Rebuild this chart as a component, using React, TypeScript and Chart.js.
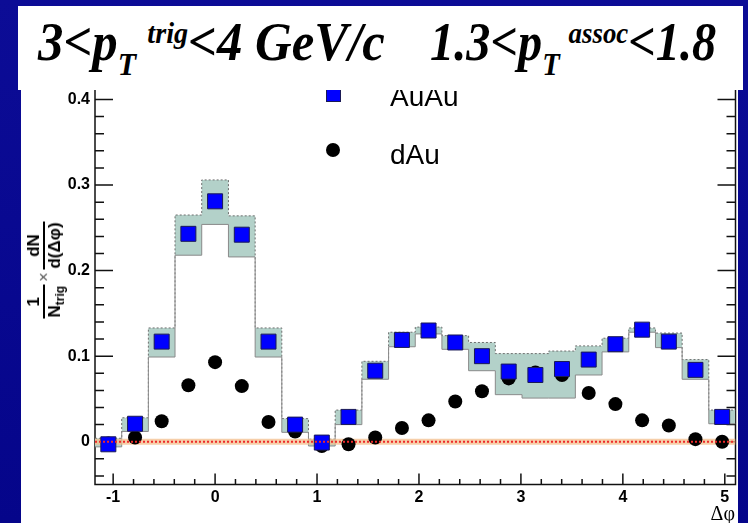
import React, { useEffect, useRef } from 'react';
import { Chart, registerables } from 'chart.js';

Chart.register(...registerables);

// Δφ bin centres (rad)
const phiCenters = [-1.047, -0.785, -0.524, -0.262, 0.0, 0.262, 0.524, 0.785, 1.047, 1.309, 1.571, 1.833,
  2.094, 2.356, 2.618, 2.88, 3.142, 3.403, 3.665, 3.927, 4.189, 4.451, 4.712, 4.974];
// AuAu per-trigger yield
const auauYield = [-0.003, 0.021, 0.117, 0.243, 0.281, 0.242, 0.117, 0.020, -0.001, 0.029, 0.083, 0.119,
  0.130, 0.116, 0.100, 0.082, 0.078, 0.085, 0.096, 0.114, 0.131, 0.117, 0.084, 0.029];
// dAu per-trigger yield
const dauYield = [-0.002, 0.005, 0.024, 0.066, 0.093, 0.065, 0.023, 0.012, -0.005, -0.003, 0.005, 0.016,
  0.025, 0.047, 0.059, 0.074, 0.081, 0.078, 0.057, 0.044, 0.025, 0.019, 0.003, 0.000];
// AuAu systematic band (upper / lower edges)
const auauSysHigh = [0.004, 0.028, 0.133, 0.265, 0.306, 0.264, 0.133, 0.027, 0.003, 0.037, 0.094, 0.128,
  0.134, 0.124, 0.116, 0.103, 0.103, 0.106, 0.112, 0.121, 0.133, 0.127, 0.096, 0.037];
const auauSysLow = [-0.006, 0.012, 0.099, 0.218, 0.254, 0.216, 0.099, 0.011, -0.005, 0.020, 0.073, 0.111,
  0.126, 0.108, 0.083, 0.055, 0.051, 0.051, 0.078, 0.105, 0.128, 0.110, 0.073, 0.021];

const xTickValues = [-1, 0, 1, 2, 3, 4, 5];
const yTickValues = [0, 0.1, 0.2, 0.3, 0.4];
const xMin = -1.178;
const xMax = 5.105;
const yMin = -0.05;
const yMax = 0.42;

function stepPoints(values: number[]) {
  const n = phiCenters.length;
  const half = (phiCenters[1] - phiCenters[0]) / 2;
  const pts: { x: number; y: number }[] = [];
  for (let i = 0; i <= n; i++) {
    const edge = i === 0 ? phiCenters[0] - half : i === n ? phiCenters[n - 1] + half : (phiCenters[i - 1] + phiCenters[i]) / 2;
    pts.push({ x: edge, y: values[Math.min(i, n - 1)] });
  }
  return pts;
}

const rootAxes = {
  id: 'rootAxes',
  beforeDatasetsDraw(chart: any) {
    const { ctx, chartArea: a } = chart;
    const xs = chart.scales.x;
    const ys = chart.scales.y;
    ctx.save();
    ctx.strokeStyle = '#111';
    ctx.lineWidth = 1.5;
    ctx.beginPath();
    for (let i = -2; i <= 20; i++) {
      const py = ys.getPixelForValue(i / 50);
      const len = i % 5 === 0 ? 18 : 9;
      ctx.moveTo(a.left, py);
      ctx.lineTo(a.left + len, py);
      ctx.moveTo(a.right, py);
      ctx.lineTo(a.right - len, py);
    }
    for (let j = -5; j <= 25; j++) {
      const px = xs.getPixelForValue(j / 5);
      const len = j % 5 === 0 ? 11 : 5.5;
      ctx.moveTo(px, a.bottom);
      ctx.lineTo(px, a.bottom - len);
    }
    ctx.stroke();
    ctx.strokeRect(a.left, a.top, a.right - a.left, a.bottom - a.top);
    ctx.restore();
  },
};

const sans = '"Liberation Sans", Arial, Helvetica, sans-serif';
const serif = '"Liberation Serif", "Times New Roman", serif';

function Frac({ num, den }: { num: React.ReactNode; den: React.ReactNode }) {
  return (
    <div style={{ display: 'flex', flexDirection: 'column', alignItems: 'center' }}>
      <div style={{ padding: '0 1px 1px' }}>{num}</div>
      <div style={{ height: 2, background: '#000', alignSelf: 'stretch' }} />
      <div style={{ padding: '1px 1px 0' }}>{den}</div>
    </div>
  );
}

export default function App() {
  const ref = useRef<HTMLCanvasElement>(null);
  useEffect(() => {
    const zeroLine = [{ x: xMin, y: 0 }, { x: xMax, y: 0 }];
    const chart = new Chart(ref.current as HTMLCanvasElement, {
      type: 'line',
      data: {
        datasets: [
          {
            label: 'sysHigh',
            data: stepPoints(auauSysHigh),
            stepped: true,
            borderColor: '#6f6f6f',
            borderWidth: 1,
            borderDash: [2, 2],
            pointRadius: 0,
            backgroundColor: '#b3d1c9',
            fill: '+1',
            order: 5,
          },
          {
            label: 'sysLow',
            data: stepPoints(auauSysLow),
            stepped: true,
            borderColor: '#8a8a8a',
            borderWidth: 1,
            pointRadius: 0,
            fill: false,
            order: 4,
          },
          {
            label: 'zeroBand',
            data: zeroLine,
            borderColor: 'rgba(243,190,140,0.75)',
            borderWidth: 6,
            pointRadius: 0,
            fill: false,
            order: 3,
          },
          {
            label: 'dAu',
            data: phiCenters.map((x, i) => ({ x, y: dauYield[i] })),
            showLine: false,
            pointStyle: 'circle',
            pointRadius: 7,
            pointBackgroundColor: '#000',
            pointBorderColor: '#000',
            pointBorderWidth: 0,
            order: 2,
          },
          {
            label: 'AuAu',
            data: phiCenters.map((x, i) => ({ x, y: auauYield[i] })),
            showLine: false,
            pointStyle: 'rect',
            pointRadius: 10.6,
            pointBackgroundColor: '#0000ff',
            pointBorderColor: '#1a1a55',
            pointBorderWidth: 1,
            order: 1,
          },
          {
            label: 'zeroLine',
            data: zeroLine,
            borderColor: '#ee2a2a',
            borderWidth: 2,
            borderDash: [2, 2],
            pointRadius: 0,
            fill: false,
            order: 0,
          },
        ],
      },
      options: {
        animation: false,
        responsive: false,
        events: [],
        layout: { padding: { top: 82.4, left: 0, right: 12.5, bottom: 0 } },
        plugins: { legend: { display: false }, tooltip: { enabled: false } },
        scales: {
          x: {
            type: 'linear',
            min: xMin,
            max: xMax,
            grid: { display: false, drawTicks: false },
            border: { display: false },
            afterBuildTicks: (s: any) => { s.ticks = xTickValues.map((v) => ({ value: v })); },
            afterFit: (s: any) => { s.height = 38.5; },
            ticks: {
              padding: 3,
              color: '#000',
              font: { family: sans, size: 16, weight: 'bold' },
              callback: (v: any) => String(v),
            },
          },
          y: {
            type: 'linear',
            min: yMin,
            max: yMax,
            grid: { display: false, drawTicks: false },
            border: { display: false },
            afterBuildTicks: (s: any) => { s.ticks = yTickValues.map((v) => ({ value: v })); },
            afterFit: (s: any) => { s.width = 95; },
            ticks: {
              padding: 5,
              color: '#000',
              font: { family: sans, size: 16, weight: 'bold' },
              callback: (v: any) => (Math.abs(v) < 1e-9 ? '0' : Number(v).toFixed(1)),
            },
          },
        },
      },
      plugins: [rootAxes],
    } as any);
    return () => chart.destroy();
  }, []);

  const rel: React.CSSProperties = { position: 'relative' };
  const titlePart: React.CSSProperties = {
    position: 'absolute', top: 8.8, whiteSpace: 'nowrap', transformOrigin: '0 0',
  };

  return (
    <div style={{ position: 'fixed', left: 0, top: 0, width: 748, height: 523, overflow: 'hidden',
      background: 'linear-gradient(180deg, #0c0c96 0%, #05058a 100%)' }}>
      <div style={{ position: 'absolute', left: 21, top: 90, width: 717, height: 433, background: '#fff' }} />
      <canvas ref={ref} width={748} height={523}
        style={{ position: 'absolute', left: 0, top: 0, width: 748, height: 523, display: 'block' }} />

      {/* y-axis title */}
      <div style={{ position: 'absolute', left: 43.5, top: 270, transform: 'translate(-50%,-50%) rotate(-90deg)',
        display: 'flex', alignItems: 'center', fontFamily: sans, fontWeight: 'bold', fontSize: 17, lineHeight: 1,
        whiteSpace: 'nowrap', color: '#000' }}>
        <Frac num="1" den={<span>N<span style={{ fontSize: 12, position: 'relative', top: 4 }}>trig</span></span>} />
        <span style={{ fontWeight: 'normal', color: '#555', margin: '0 3px', fontSize: 16 }}>×</span>
        <Frac num="dN" den="d(Δφ)" />
      </div>

      {/* x-axis title */}
      <div style={{ position: 'absolute', right: 13, top: 503, fontFamily: serif, fontSize: 20, lineHeight: '20px',
        color: '#000', whiteSpace: 'nowrap' }}>Δφ</div>

      {/* legend */}
      <div style={{ position: 'absolute', left: 326, top: 87, width: 15, height: 15, boxSizing: 'border-box',
        background: '#0000ff', border: '1px solid #1a1a55' }} />
      <div style={{ position: 'absolute', left: 390, top: 83.3, fontFamily: sans, fontSize: 28, lineHeight: '28px',
        color: '#000' }}>AuAu</div>
      <div style={{ position: 'absolute', left: 326, top: 143, width: 14, height: 14, borderRadius: '50%',
        background: '#000' }} />
      <div style={{ position: 'absolute', left: 390, top: 141.3, fontFamily: sans, fontSize: 28, lineHeight: '28px',
        color: '#000' }}>dAu</div>

      {/* title box */}
      <div style={{ position: 'absolute', left: 18, top: 6, width: 725, height: 84, background: '#fff', zIndex: 2,
        fontFamily: serif, fontStyle: 'italic', fontWeight: 'bold', fontSize: 54, lineHeight: '54px', color: '#000' }}>
        <div style={{ ...titlePart, left: 20, transform: 'scaleX(0.94)' }}>
          3&lt;p<span style={{ ...rel, fontSize: 32, top: 15 }}>T</span>
          <span style={{ ...rel, fontSize: 30, top: -17, marginLeft: 12 }}>trig</span>&lt;4 GeV/c
        </div>
        <div style={{ ...titlePart, left: 412, transform: 'scaleX(0.895)' }}>
          1.3&lt;p<span style={{ ...rel, fontSize: 32, top: 15 }}>T</span>
          <span style={{ ...rel, fontSize: 30, top: -17, marginLeft: 10 }}>assoc</span>&lt;1.8
        </div>
      </div>
    </div>
  );
}
